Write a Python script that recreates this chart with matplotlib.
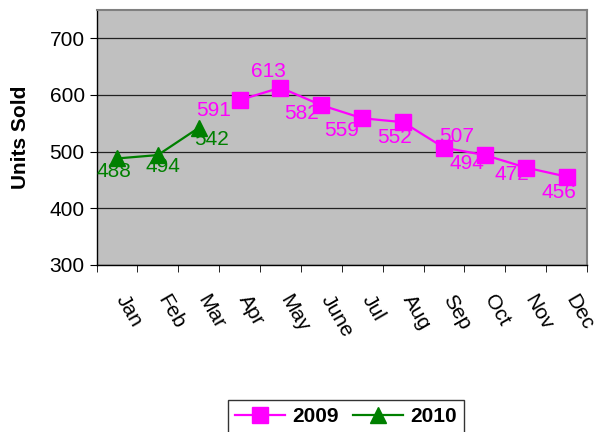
import numpy as np
import matplotlib
matplotlib.use("Agg")
import matplotlib.pyplot as plt
from matplotlib.transforms import ScaledTranslation

plt.rcParams['font.family'] = ['Liberation Sans', 'DejaVu Sans']

# Daten
months = ['Jan', 'Feb', 'Mar', 'Apr', 'May', 'June', 'Jul', 'Aug', 'Sep', 'Oct', 'Nov', 'Dec']
sales_2009 = [np.nan, np.nan, np.nan, 591, 613, 582, 559, 552, 507, 494, 472, 456]
sales_2010 = [488, 494, 542, np.nan, np.nan, np.nan, np.nan, np.nan, np.nan, np.nan, np.nan, np.nan]

# Versatz der Datenbeschriftungen (Pixel, x rechts / y oben)
offsets_2009 = [None, None, None, (-26, -10), (-12, 16), (-20, -8), (-21, -12),
                (-9, -15), (13, 11), (-18, -8), (-14, -7), (-8, -16)]
offsets_2010 = [(-3, -13), (5, -11), (13, -12)] + [None] * 9

c2009 = '#FF00FF'
c2010 = '#008000'
fs = 15

fig = plt.figure(figsize=(5.99, 4.32), dpi=100)
ax = fig.add_axes([96.5 / 599, 1 - 265 / 432, (587 - 96.5) / 599, (265 - 10) / 432])
ax.set_facecolor('#C0C0C0')

x = np.arange(len(months))
ax.plot(x, sales_2009, color=c2009, lw=1.6, marker='s', ms=11, label='2009', zorder=3)
ax.plot(x, sales_2010, color=c2010, lw=1.6, marker='^', ms=11, label='2010', zorder=3)

for i in range(len(months)):
    if not np.isnan(sales_2009[i]):
        ax.annotate(str(int(sales_2009[i])), (x[i], sales_2009[i]), xytext=offsets_2009[i],
                    textcoords='offset pixels', ha='center', va='center',
                    color=c2009, fontsize=fs, zorder=4)
    if not np.isnan(sales_2010[i]):
        ax.annotate(str(int(sales_2010[i])), (x[i], sales_2010[i]), xytext=offsets_2010[i],
                    textcoords='offset pixels', ha='center', va='center',
                    color=c2010, fontsize=fs, zorder=4)

ax.set_xlim(-0.5, 11.5)
ax.set_ylim(300, 750)
ax.set_yticks([300, 400, 500, 600, 700])
ax.tick_params(axis='y', labelsize=fs, length=5, direction='out', color='black')
ax.grid(axis='y', color='#222222', lw=0.9)
ax.set_axisbelow(True)

ax.set_xticks(x)
ax.set_xticklabels(months, rotation=-60, ha='left', rotation_mode='anchor', fontsize=fs)
ax.tick_params(axis='x', which='major', length=0, pad=19)
ax.set_xticks(np.arange(-0.5, 12, 1), minor=True)
ax.tick_params(axis='x', which='minor', length=5, direction='out', color='black')
for lab in ax.get_xticklabels():
    lab.set_transform(lab.get_transform() + ScaledTranslation(0.12, 0, fig.dpi_scale_trans))

for s in ['top', 'right']:
    ax.spines[s].set_color('#808080')
    ax.spines[s].set_linewidth(1.5)
for s in ['left', 'bottom']:
    ax.spines[s].set_color('black')
    ax.spines[s].set_linewidth(1.0)

ax.set_ylabel('Units Sold', fontsize=fs, fontweight='bold')
ax.yaxis.set_label_coords(-0.136, 0.5)

leg = fig.legend(loc='upper center', bbox_to_anchor=(346 / 599, 1 - 400 / 432), ncol=2,
                 frameon=True, fancybox=False, edgecolor='black',
                 prop={'weight': 'bold', 'size': fs}, handlelength=2.4,
                 borderpad=0.35, borderaxespad=0, columnspacing=0.7, handletextpad=0.35)
leg.get_frame().set_linewidth(1.0)

fig.savefig('out.png', dpi=100)
